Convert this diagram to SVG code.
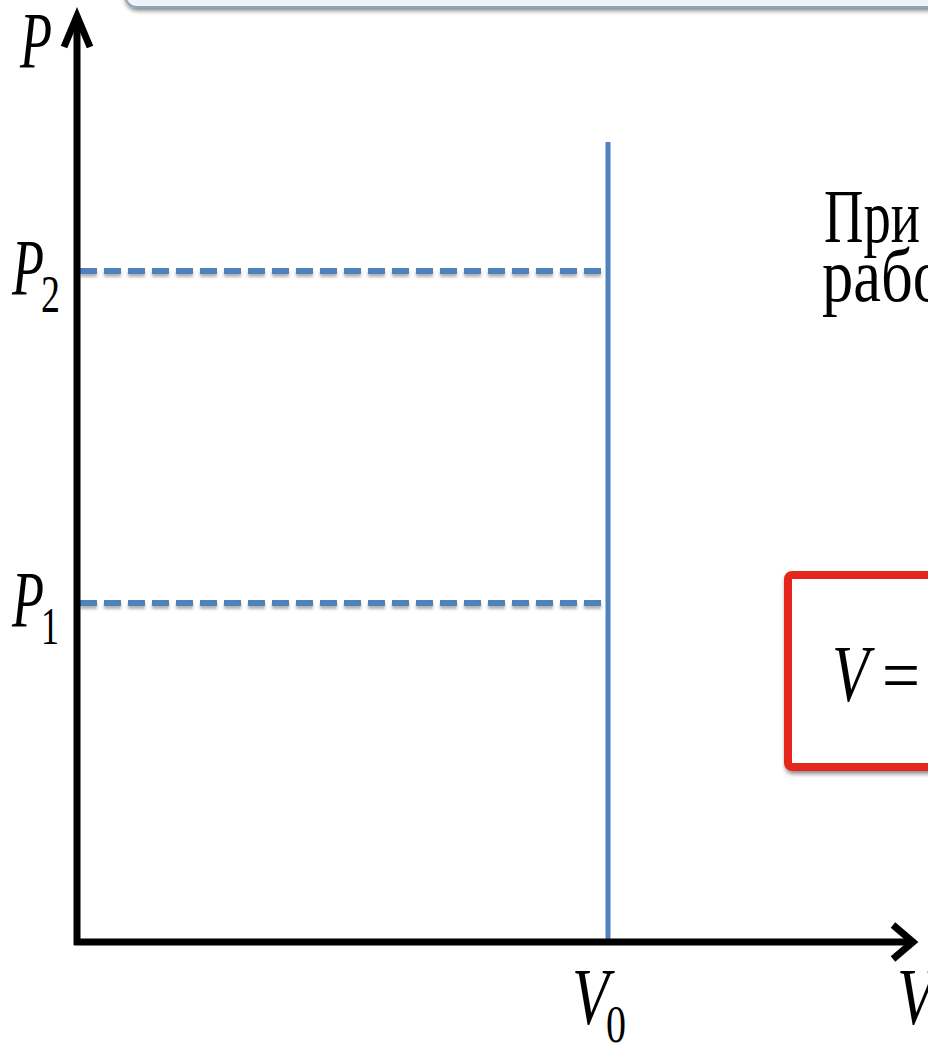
<svg xmlns="http://www.w3.org/2000/svg" width="928" height="1044" viewBox="0 0 928 1044">
  <style>
    .math { font-family: "Liberation Serif", "DejaVu Serif", serif; font-style: italic; fill: #000; }
    .sub { font-family: "Liberation Serif", "DejaVu Serif", serif; fill: #000; }
    .body { font-family: "Liberation Serif", "DejaVu Serif", serif; fill: #000; }
    .axis { stroke: #000; stroke-width: 7; fill: none; }
    .blue { stroke: #4f81bd; fill: none; }
  </style>
  <defs>
    <filter id="shadow" x="-10%" y="-10%" width="130%" height="140%">
      <feDropShadow dx="1" dy="3" stdDeviation="2" flood-color="#000" flood-opacity="0.45"/>
    </filter>
    <filter id="soft" filterUnits="userSpaceOnUse" x="0" y="0" width="928" height="1044">
      <feDropShadow dx="0" dy="3" stdDeviation="1.5" flood-color="#000" flood-opacity="0.3"/>
    </filter>
  </defs>
  <rect width="928" height="1044" fill="#fff"/>

  <g id="top-banner">
    <rect x="125" y="-60" width="880" height="67" rx="12" fill="#edf3f9" stroke="#8ba5bf" stroke-width="2" filter="url(#shadow)"/>
  </g>

  <g id="connectors">
    <line class="blue" x1="608" y1="142" x2="608" y2="942" stroke-width="5"/>
    <line class="blue" x1="80" y1="271" x2="606" y2="271" stroke-width="6" stroke-dasharray="17 7" filter="url(#soft)"/>
    <line class="blue" x1="80" y1="603" x2="606" y2="603" stroke-width="6" stroke-dasharray="17 7" filter="url(#soft)"/>
    <line class="axis" x1="77" y1="945" x2="77" y2="16"/>
    <polyline class="axis" points="64,47 77,16 90,47" stroke-linejoin="miter"/>
    <line class="axis" x1="74" y1="942" x2="912" y2="942"/>
    <polyline class="axis" points="893,925 913,942 893,959" stroke-linejoin="miter"/>
  </g>

  <g id="label-P">
    <text class="math" x="20" y="68" font-size="80" textLength="32" lengthAdjust="spacingAndGlyphs">P</text>
  </g>
  <g id="label-P2">
    <text class="math" x="12" y="295" font-size="80" textLength="32" lengthAdjust="spacingAndGlyphs">P</text>
    <text class="sub" x="41" y="312" font-size="52" textLength="19" lengthAdjust="spacingAndGlyphs">2</text>
  </g>
  <g id="label-P1">
    <text class="math" x="12" y="627" font-size="80" textLength="32" lengthAdjust="spacingAndGlyphs">P</text>
    <text class="sub" x="41" y="644" font-size="52" textLength="18" lengthAdjust="spacingAndGlyphs">1</text>
  </g>
  <g id="label-V0">
    <text class="math" x="572" y="1024" font-size="80" textLength="37" lengthAdjust="spacingAndGlyphs">V</text>
    <text class="sub" x="606" y="1042" font-size="52" textLength="20" lengthAdjust="spacingAndGlyphs">0</text>
  </g>
  <g id="label-V">
    <text class="math" x="897" y="1024" font-size="80" textLength="37" lengthAdjust="spacingAndGlyphs">V</text>
  </g>

  <g id="text-block">
    <text class="body" x="824" y="242" font-size="76" textLength="96" lengthAdjust="spacingAndGlyphs">При</text>
    <text class="body" x="822" y="301" font-size="76" textLength="122" lengthAdjust="spacingAndGlyphs">рабо</text>
  </g>

  <g id="formula-box">
    <rect x="788" y="575" width="200" height="192" rx="4" fill="#fff" stroke="#e5261b" stroke-width="8" filter="url(#shadow)"/>
    <text class="math" x="832" y="701" font-size="80" textLength="37" lengthAdjust="spacingAndGlyphs">V</text>
    <text class="sub" x="882" y="701" font-size="76" textLength="38" lengthAdjust="spacingAndGlyphs">=</text>
  </g>
</svg>
